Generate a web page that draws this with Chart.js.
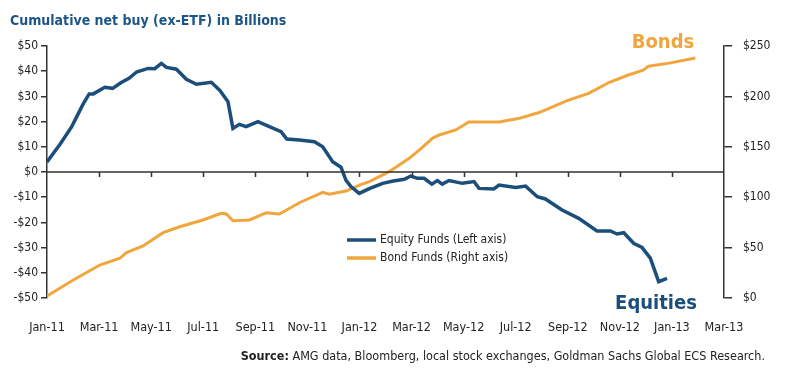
<!DOCTYPE html>
<html>
<head>
<meta charset="utf-8">
<script src="https://cdn.jsdelivr.net/npm/chart.js@4/dist/chart.umd.min.js"></script>
<style>
  html, body { margin: 0; padding: 0; background: #fff; }
  #wrap { width: 785px; height: 386px; position: relative; }
</style>
</head>
<body>
<div id="wrap"><canvas id="flows"></canvas></div>
<script>
// month index from Jan-11 = 0
const monthLabels = ['Jan-11','Mar-11','May-11','Jul-11','Sep-11','Nov-11','Jan-12','Mar-12','May-12','Jul-12','Sep-12','Nov-12','Jan-13','Mar-13']

const equityMonths = [0,0.5,0.95,1.39,1.62,1.78,2.22,2.52,2.85,3.15,3.44,3.88,4.14,4.39,4.59,4.97,5.35,5.74,6.31,6.63,6.95,7.14,7.39,7.65,8.1,8.54,8.99,9.21,9.69,10.27,10.59,10.97,11.29,11.48,11.67,11.99,12.4,12.89,13.3,13.72,13.97,14.23,14.48,14.78,14.99,15.18,15.44,15.95,16.4,16.59,17.16,17.36,18,18.38,18.83,19.14,19.78,20.42,21.12,21.64,21.89,22.15,22.53,22.85,23.17,23.49,23.81]
const equityValues = [4,11,18,27,31,31,33.6,33.2,35.5,37.2,39.7,41.1,41,43.1,41.5,40.8,36.8,34.8,35.6,32.5,27.9,17.3,18.9,18,20,18,16,13.1,12.7,12,10,4.1,1.9,-3.2,-5.8,-8.5,-6.5,-4.5,-3.6,-2.9,-1.6,-2.5,-2.5,-4.8,-3.4,-4.8,-3.4,-4.5,-3.8,-6.5,-6.7,-5.2,-6.1,-5.6,-9.8,-10.7,-15.1,-18.4,-23.4,-23.4,-24.6,-24.1,-28.3,-29.9,-34.2,-43.5,-42.2]

const bondMonths = [0,1.01,2.03,2.8,3.05,3.69,4.46,5.1,5.99,6.69,6.89,7.14,7.78,8.42,8.93,9.69,10.59,10.84,11.48,12,12.38,13.14,13.91,14.35,14.8,15.06,15.7,16.2,17.36,18.1,18.9,20,20.8,21.6,22.3,22.9,23.1,23.9,24.9]
const bondValues = [2,17.9,32.7,39.4,45,51.6,64.8,70.7,77.4,84,83.3,76.7,77.4,84.6,83.3,94.5,104.8,102.9,106.1,112,115.4,125.3,138.6,148,158.4,161.7,166.7,174.6,174.6,178,184,196,203,214,221,226,230,233,238]

const blue = '#1b4e7b'
const orange = '#f0a63c'
const fontNarrow = "'Liberation Sans Narrow', 'DejaVu Sans Condensed', 'Roboto', sans-serif"

var equityPts = []
for(var i=0;i<equityMonths.length;i++){
    equityPts.push({x: equityMonths[i], y: equityValues[i]})
}
var bondPts = []
for(var i=0;i<bondMonths.length;i++){
    bondPts.push({x: bondMonths[i], y: bondValues[i]})
}

// zero line with monthly ticks, title, legend, notes
const decor = {
    id: 'decor',
    afterDatasetsDraw(chart){
        const c = chart.ctx
        const x = chart.scales.x, yl = chart.scales.yL
        const area = chart.chartArea
        const y0 = yl.getPixelForValue(0)
        c.save()
        c.strokeStyle = '#333'
        c.lineWidth = 1.5
        c.beginPath()
        c.moveTo(area.left, y0)
        c.lineTo(area.right, y0)
        for(var m=2;m<26;m+=2){
            const px = Math.round(x.getPixelForValue(m)) + 0.5
            c.moveTo(px, y0)
            c.lineTo(px, y0 + 5)
        }
        c.stroke()

        // legend
        const items = [[chart.data.datasets[0].label, blue],[chart.data.datasets[1].label, orange]]
        c.font = '12px ' + fontNarrow
        c.textBaseline = 'middle'
        c.textAlign = 'left'
        for(var k=0;k<items.length;k++){
            const ly = 240 + k*18
            c.strokeStyle = items[k][1]
            c.lineWidth = 3.5
            c.beginPath()
            c.moveTo(347, ly)
            c.lineTo(376, ly)
            c.stroke()
            c.fillStyle = '#222'
            c.fillText(items[k][0], 380, ly)
        }
        c.restore()
    },
    afterDraw(chart){
        const c = chart.ctx
        c.save()
        c.textBaseline = 'alphabetic'
        c.textAlign = 'left'
        c.fillStyle = '#1d5588'
        c.font = 'bold 14px ' + fontNarrow
        c.fillText('Cumulative net buy (ex-ETF) in Billions', 10, 25)

        c.textAlign = 'center'
        c.fillStyle = orange
        c.font = 'bold 20px ' + fontNarrow
        c.fillText('Bonds', 663, 48)
        c.fillStyle = blue
        c.fillText('Equities', 656, 309)

        c.textAlign = 'right'
        c.font = '12.5px ' + fontNarrow
        c.fillStyle = '#222'
        const rest = ' AMG data, Bloomberg, local stock exchanges, Goldman Sachs Global ECS Research.'
        c.fillText(rest, 765, 360)
        const w = c.measureText(rest).width
        c.font = 'bold 12.5px ' + fontNarrow
        c.fillText('Source:', 765 - w, 360)
        c.restore()
    }
}

const ctx = document.getElementById('flows').getContext('2d')
const myChart = new Chart(ctx, {
    type: 'line',
    data: {
        datasets: [{
            label: 'Equity Funds (Left axis)',
            data: equityPts,
            yAxisID: 'yL',
            borderColor: blue,
            borderWidth: 3.5,
            pointRadius: 0,
            tension: 0
        },{
            label: 'Bond Funds (Right axis)',
            data: bondPts,
            yAxisID: 'yR',
            borderColor: orange,
            borderWidth: 3,
            pointRadius: 0,
            tension: 0
        }]
    },
    options: {
        responsive: true,
        maintainAspectRatio: false,
        animation: false,
        layout: { padding: { top: 46, left: 0, right: 0, bottom: 0 } },
        plugins: {
            legend: { display: false },
            tooltip: { enabled: false },
            title: { display: false }
        },
        scales: {
            x: {
                type: 'linear',
                min: 0,
                max: 26,
                afterFit: function(s){ s.height = 88 },
                afterBuildTicks: function(s){
                    s.ticks = monthLabels.map(function(l, i){ return {value: i*2} })
                },
                ticks: {
                    autoSkip: false,
                    maxRotation: 0,
                    padding: 14,
                    color: '#222',
                    font: { family: fontNarrow, size: 12.5 },
                    callback: function(v){ return monthLabels[Math.round(v/2)] }
                },
                grid: { display: false },
                border: { display: false }
            },
            yL: {
                position: 'left',
                min: -50,
                max: 50,
                afterFit: function(s){ s.width = 47 },
                ticks: {
                    stepSize: 10,
                    padding: 3,
                    color: '#222',
                    font: { family: fontNarrow, size: 12 },
                    callback: function(v){ return v < 0 ? '-$' + Math.abs(v) : '$' + v }
                },
                grid: { drawOnChartArea: false, tickLength: 6, color: '#333', lineWidth: 1.5 },
                border: { display: true, color: '#333', width: 1.5 }
            },
            yR: {
                position: 'right',
                min: 0,
                max: 250,
                afterFit: function(s){ s.width = 61 },
                ticks: {
                    stepSize: 50,
                    padding: 11,
                    color: '#222',
                    font: { family: fontNarrow, size: 12 },
                    callback: function(v){ return '$' + v }
                },
                grid: { drawOnChartArea: false, tickLength: 8, color: '#333', lineWidth: 1.5 },
                border: { display: true, color: '#333', width: 1.5 }
            }
        }
    },
    plugins: [decor]
})
</script>
</body>
</html>
